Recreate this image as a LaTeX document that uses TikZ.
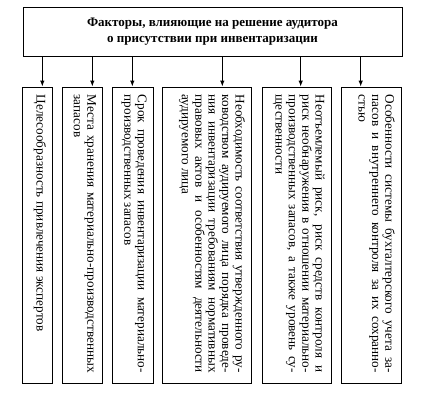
\documentclass[tikz,border=0pt]{standalone}
\usepackage{fontspec}
\setmainfont{Liberation Serif}
\usetikzlibrary{arrows.meta}
\begin{document}
\tolerance=9999
\hyphenpenalty=10000
\begin{tikzpicture}[x=1pt,y=-1pt,
  box/.style={draw, line width=0.9pt, inner sep=0pt},
  vtext/.style={rotate=-90, anchor=north west, inner sep=0pt, text width=278pt, align=justify,
    font=\fontsize{13.2}{13.4}\selectfont},
  arr/.style={-{Latex[length=6pt,width=4.5pt]}, line width=0.9pt}]
\useasboundingbox (0,0) rectangle (443,408);
\node[box, minimum width=379pt, minimum height=49pt, align=center,
  font=\bfseries\fontsize{13}{16}\selectfont] (top) at (212.5,31.5)
  {Факторы, влияющие на решение аудитора\\о присутствии при инвентаризации};
\node[box, minimum width=30pt,   minimum height=296pt] (b1) at (37.7,235) {};
\node[box, minimum width=40pt,   minimum height=296pt] (b2) at (82.7,235) {};
\node[box, minimum width=40.6pt, minimum height=296pt] (b3) at (133,235) {};
\node[box, minimum width=89pt,   minimum height=296pt] (b4) at (207.2,235) {};
\node[box, minimum width=69.2pt, minimum height=296pt] (b5) at (296.9,235) {};
\node[box, minimum width=60.7pt, minimum height=296pt] (b6) at (371.3,235) {};
\node[vtext] (t1) at ([xshift=-7pt,yshift=-8pt]b1.north east) {Целесообразность привлечения экспертов};
\node[vtext] (t2) at ([xshift=-7pt,yshift=-8pt]b2.north east) {Места хранения материально-производственных\linebreak запасов};
\node[vtext] (t3) at ([xshift=-7pt,yshift=-8pt]b3.north east) {Срок проведения инвентаризации материально-\linebreak производственных запасов};
\node[vtext] (t4) at ([xshift=-7pt,yshift=-8pt]b4.north east) {Необходимость соответствия утвержденного ру-\linebreak ководством аудируемого лица порядка проведе-\linebreak ния инвентаризации требованиям нормативных\linebreak правовых актов и особенностям деятельности\linebreak аудируемого лица};
\node[vtext] (t5) at ([xshift=-7pt,yshift=-8pt]b5.north east) {Неотъемлемый риск, риск средств контроля и\linebreak риск необнаружения в отношении материально-\linebreak производственных запасов, а также уровень су-\linebreak щественности};
\node[vtext] (t6) at ([xshift=-7pt,yshift=-8pt]b6.north east) {Особенности системы бухгалтерского учета за-\linebreak пасов и внутреннего контроля за их сохранно-\linebreak стью};
\coordinate (a1) at (42.3,0);
\coordinate (a2) at (92.3,0);
\coordinate (a3) at (132.3,0);
\coordinate (a4) at (222.3,0);
\coordinate (a5) at (300.7,0);
\coordinate (a6) at (360.7,0);
\draw[arr] (top.south -| a1) -- (b1.north -| a1);
\draw[arr] (top.south -| a2) -- (b2.north -| a2);
\draw[arr] (top.south -| a3) -- (b3.north -| a3);
\draw[arr] (top.south -| a4) -- (b4.north -| a4);
\draw[arr] (top.south -| a5) -- (b5.north -| a5);
\draw[arr] (top.south -| a6) -- (b6.north -| a6);
\end{tikzpicture}
\end{document}
